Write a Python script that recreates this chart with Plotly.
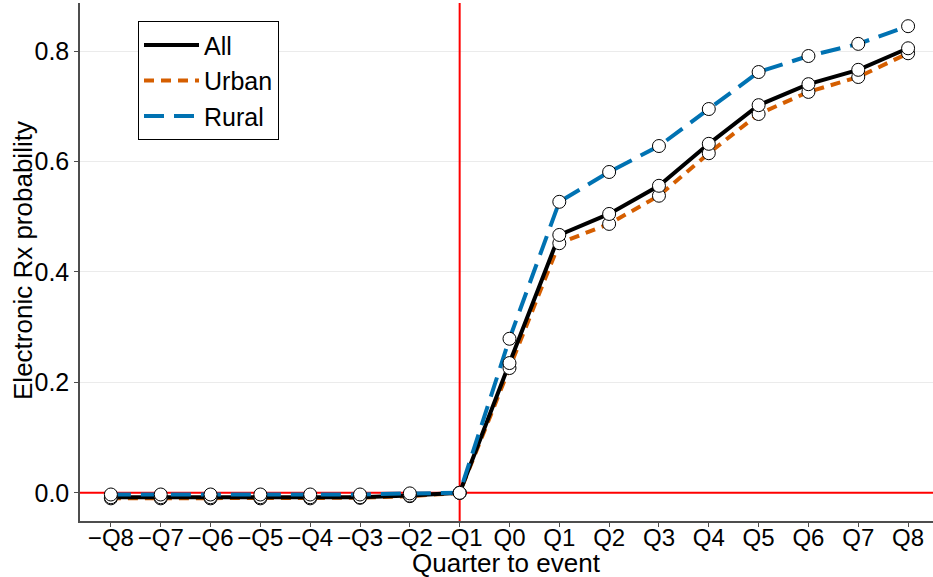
import plotly.graph_objects as go

quarters = ["\u2212Q8", "\u2212Q7", "\u2212Q6", "\u2212Q5", "\u2212Q4", "\u2212Q3", "\u2212Q2", "\u2212Q1",
            "Q0", "Q1", "Q2", "Q3", "Q4", "Q5", "Q6", "Q7", "Q8"]
x_pos = list(range(-8, 9))

all_vals = [-0.008, -0.008, -0.008, -0.008, -0.008, -0.008, -0.005, 0.0,
            0.235, 0.467, 0.505, 0.556, 0.632, 0.702, 0.740, 0.766, 0.805]
urban_vals = [-0.010, -0.010, -0.010, -0.010, -0.010, -0.009, -0.006, 0.0,
              0.226, 0.452, 0.487, 0.538, 0.615, 0.686, 0.726, 0.753, 0.796]
rural_vals = [-0.003, -0.003, -0.003, -0.003, -0.003, -0.003, -0.001, 0.0,
              0.279, 0.527, 0.581, 0.628, 0.695, 0.762, 0.791, 0.813, 0.845]

y_ticks = [0.0, 0.2, 0.4, 0.6, 0.8]
y_range = [-0.051, 0.887]
x_range = [-8.62, 8.5]

FONT = "Liberation Sans, Arial, sans-serif"
FS_TICK = 25
FS_XTICK = 24
FS_TITLE = 26

fig = go.Figure()

# red reference lines (drawn under data)
fig.add_trace(go.Scatter(x=x_range, y=[0, 0], mode="lines", showlegend=False,
                         line=dict(color="red", width=2), hoverinfo="skip"))
fig.add_trace(go.Scatter(x=[-1, -1], y=y_range, mode="lines", showlegend=False,
                         line=dict(color="red", width=2), hoverinfo="skip"))

series = [
    ("Urban", urban_vals, "#D55E00", "10px,7px", 2),
    ("All", all_vals, "black", "solid", 1),
    ("Rural", rural_vals, "#0072B2", "20px,10px", 3),
]
for name, vals, color, dash, rank in series:
    fig.add_trace(go.Scatter(x=x_pos, y=vals, mode="lines", name=name, legendrank=rank,
                             line=dict(color=color, width=4, dash=dash)))

for name, vals, color, dash, rank in series:
    fig.add_trace(go.Scatter(x=x_pos, y=vals, mode="markers", showlegend=False,
                             marker=dict(size=13, color="white",
                                         line=dict(color="black", width=1))))

fig.update_layout(
    width=933, height=577,
    margin=dict(l=80, r=0, t=3, b=56, autoexpand=False),
    plot_bgcolor="white", paper_bgcolor="white",
    font=dict(family=FONT, size=FS_TICK, color="black"),
    legend=dict(x=0.068, y=0.965, xanchor="left", yanchor="top",
                bordercolor="black", borderwidth=1, bgcolor="white",
                font=dict(size=FS_TICK), traceorder="normal",
                tracegroupgap=0, itemwidth=55),
    showlegend=True,
    annotations=[
        dict(text="Quarter to event", x=0.5, y=-0.081,
             xref="paper", yref="paper", xanchor="center", yanchor="middle",
             showarrow=False, font=dict(size=FS_TITLE)),
        dict(text="Electronic Rx probability", x=-0.0668, y=0.502, textangle=-90,
             xref="paper", yref="paper", xanchor="center", yanchor="middle",
             showarrow=False, font=dict(size=FS_TITLE)),
    ],
)
fig.update_xaxes(
    tickmode="array", tickvals=x_pos, ticktext=quarters, tickangle=0,
    range=x_range, showgrid=False, zeroline=False, automargin=False,
    showline=True, linecolor="#4d4d4d", linewidth=1.5,
    ticks="outside", ticklen=4, tickcolor="#4d4d4d", ticklabelstandoff=-10,
    tickfont=dict(size=FS_XTICK, color="black"),
)
fig.update_yaxes(
    tickmode="array", tickvals=y_ticks, ticktext=[f"{v:.1f}" for v in y_ticks],
    range=y_range, showgrid=True, gridcolor="#ebebeb", gridwidth=1,
    zeroline=False, showline=True, linecolor="#4d4d4d", linewidth=1.5,
    ticks="outside", ticklen=4, tickcolor="#4d4d4d", automargin=False,
    tickfont=dict(size=FS_TICK, color="black"),
)

fig.write_html("out.html")
